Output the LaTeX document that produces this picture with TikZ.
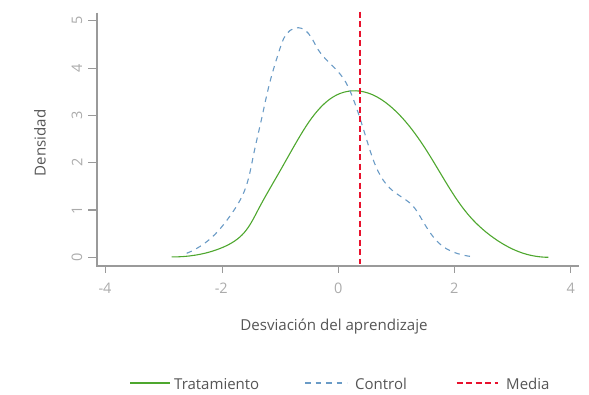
\documentclass[tikz,border=0pt]{standalone}
\usepackage{fontspec}
\setmainfont{Open Sans}
\usetikzlibrary{hobby}
\definecolor{trgreen}{HTML}{4EA72E}
\definecolor{ctblue}{HTML}{6A9BC6}
\definecolor{mdred}{HTML}{E8112D}
\definecolor{axgray}{HTML}{9A9A9A}
\definecolor{ticklab}{HTML}{ABABAB}
\definecolor{titlegray}{HTML}{555555}
\tikzset{
  axisline/.style={draw=axgray, line width=1.1pt},
  ticklabel/.style={text=ticklab, font=\fontsize{14.5}{16}\selectfont, inner sep=0pt},
  axtitle/.style={text=titlegray, font=\fontsize{15.1}{17}\selectfont, inner sep=0pt},
  legtext/.style={text=titlegray, font=\fontsize{15}{17}\selectfont, inner sep=0pt, anchor=west},
  treat/.style={draw=trgreen, line width=1.1pt},
  ctrl/.style={draw=ctblue, line width=1.1pt, dash pattern=on 5.5pt off 5pt},
  meanl/.style={draw=mdred, line width=1.4pt, dash pattern=on 6pt off 3.5pt},
}
\begin{document}
\begin{tikzpicture}[x=1pt,y=-1pt]
\useasboundingbox (0,0) rectangle (589,395);
% axes
\draw[axisline] (97,12.7) -- (97,266) -- (579,266);
% y ticks
\foreach \v in {0,...,5} {
  \pgfmathsetmacro{\yy}{257.3-47.3*\v}
  \draw[axisline] (88,\yy) -- (97,\yy);
  \node[ticklabel, rotate=90] (yl\v) at (77,\yy) {\v};
}
% x ticks
\foreach \v in {-4,-2,0,2,4} {
  \pgfmathsetmacro{\xx}{338.3+58.1*\v}
  \draw[axisline] (\xx,266) -- (\xx,273.5);
}
\node[ticklabel] (xl1) at (105,288.5) {-4};
\node[ticklabel] (xl2) at (221.3,288.5) {-2};
\node[ticklabel] (xl3) at (338.3,288.5) {0};
\node[ticklabel] (xl4) at (454.3,288.5) {2};
\node[ticklabel] (xl5) at (570.7,288.5) {4};
\node[axtitle, rotate=90] (ytitle) at (40,142.7) {Densidad};
\node[axtitle] (xtitle) at (334,327) {Desviación del aprendizaje};
% treatment curve
\draw[treat, use Hobby shortcut] (171.7,256.9) .. (195,255.2) .. (220,248.5) .. (242,235) .. (258,210)
 .. (280,171) .. (300,136) .. (320,108) .. (340,93.5) .. (356,90.8) .. (372,94.5)
 .. (390,106) .. (410,127) .. (430,156) .. (450,189) .. (470,216.7) .. (496.7,240)
 .. (523.3,253.3) .. (548.3,257.3);
% control curve
\draw[ctrl, use Hobby shortcut] (186.7,253.3) .. (210,239) .. (230,216) .. (244,192) .. (253.3,156)
 .. (261.7,118.3) .. (270,81.7) .. (280,48.3) .. (290,30.5) .. (298.3,27.7) .. (308.3,33.3)
 .. (318,49.5) .. (333.3,66.7) .. (343.3,78.3) .. (351.7,95) .. (360,118.3) .. (368.3,145)
 .. (378.3,171.7) .. (390,188.3) .. (400,196) .. (412,205) .. (421,218) .. (430,232.5)
 .. (443.3,246.7) .. (456.7,253.3) .. (473.3,256.7);
% mean line
\draw[meanl] (360,11.7) -- (360,264);
% legend
\coordinate (lg1a) at (130,383); \coordinate (lg1b) at (170,383);
\coordinate (lg2a) at (305,383); \coordinate (lg2b) at (347,383);
\coordinate (lg3a) at (456.7,383); \coordinate (lg3b) at (498,383);
\draw[treat] (lg1a) -- (lg1b);
\draw[ctrl] (lg2a) -- (lg2b);
\draw[meanl] (lg3a) -- (lg3b);
\node[legtext] (lt1) at (174,384) {Tratamiento};
\node[legtext] (lt2) at (355,384) {Control};
\node[legtext] (lt3) at (506,384) {Media};
\end{tikzpicture}
\end{document}
